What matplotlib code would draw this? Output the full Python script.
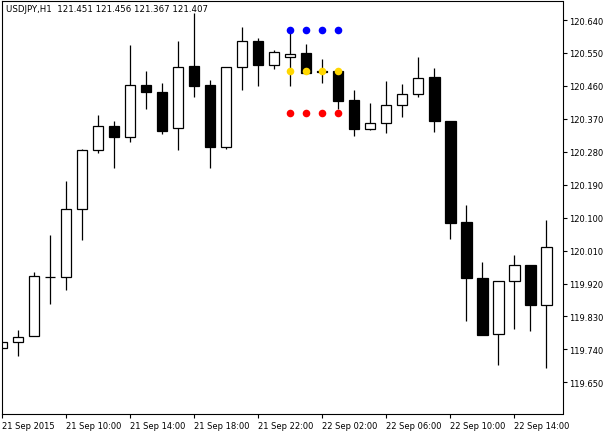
import numpy as np
import matplotlib.pyplot as plt

# USDJPY H1, 21-22 Sep 2015
opens = [119.743, 119.760, 119.776, 119.938, 119.937, 120.123, 120.285, 120.350, 120.320,
         120.462, 120.443, 120.345, 120.515, 120.462, 120.293, 120.512, 120.583, 120.516,
         120.539, 120.551, 120.501, 120.501, 120.422, 120.342, 120.358, 120.408, 120.437,
         120.485, 120.365, 120.088, 119.935, 119.781, 119.926, 119.971, 119.862]
highs = [119.760, 119.793, 119.951, 120.053, 120.201, 120.287, 120.381, 120.363, 120.573,
         120.501, 120.469, 120.583, 120.658, 120.477, 120.512, 120.622, 120.591, 120.559,
         120.607, 120.575, 120.534, 120.501, 120.449, 120.414, 120.474, 120.466, 120.540,
         120.510, 120.365, 120.135, 119.980, 119.927, 119.998, 119.971, 120.094]
lows = [119.743, 119.723, 119.776, 119.865, 119.903, 120.040, 120.276, 120.237, 120.308,
        120.398, 120.329, 120.285, 120.431, 120.237, 120.287, 120.448, 120.461, 120.505,
        120.461, 120.495, 120.467, 120.398, 120.324, 120.340, 120.330, 120.376, 120.431,
        120.335, 120.042, 119.818, 119.778, 119.698, 119.796, 119.791, 119.689]
closes = [119.760, 119.775, 119.940, 119.937, 120.123, 120.285, 120.350, 120.319, 120.462,
          120.442, 120.338, 120.512, 120.461, 120.292, 120.512, 120.583, 120.516, 120.553,
          120.547, 120.495, 120.499, 120.420, 120.341, 120.358, 120.408, 120.438, 120.481,
          120.363, 120.084, 119.936, 119.779, 119.927, 119.970, 119.862, 120.019]

# Niveles del indicador (puntos)
nivel_barras = [18, 19, 20, 21]
nivel_alto = 120.614
nivel_medio = 120.500
nivel_bajo = 120.387

precios_eje = [119.650, 119.740, 119.830, 119.920, 120.010, 120.100, 120.190,
               120.280, 120.370, 120.460, 120.550, 120.640]
etiquetas_tiempo = ['21 Sep 2015', '21 Sep 10:00', '21 Sep 14:00', '21 Sep 18:00',
                    '21 Sep 22:00', '22 Sep 02:00', '22 Sep 06:00', '22 Sep 10:00',
                    '22 Sep 14:00']

fig = plt.figure(figsize=(6.14, 4.35), dpi=100)
ax = fig.add_axes([2 / 614, 20 / 435, 560.5 / 614, 413 / 435])

x = np.arange(len(opens))
o = np.array(opens)
c = np.array(closes)
ax.vlines(x, lows, highs, color='black', linewidth=0.9, zorder=1)
colores = ['white' if cc >= oo else 'black' for oo, cc in zip(o, c)]
alturas = np.maximum(np.abs(c - o), 0.0004)
ax.bar(x, alturas, bottom=np.minimum(o, c), width=0.64, color=colores,
       edgecolor='black', linewidth=0.9, zorder=2)

ax.scatter(nivel_barras, [nivel_alto] * 4, s=30, color='#0000ff', zorder=3, linewidths=0)
ax.scatter(nivel_barras, [nivel_medio] * 4, s=30, color='#ffd700', zorder=3, linewidths=0)
ax.scatter(nivel_barras, [nivel_bajo] * 4, s=30, color='#ff0000', zorder=3, linewidths=0)

ax.set_xlim(0, 35.0)
ax.set_ylim(119.5634, 120.692)

ax.yaxis.tick_right()
ax.set_yticks(precios_eje)
ax.set_yticklabels(['%.3f' % p for p in precios_eje])
ax.set_xticks(np.arange(0, 36, 4)[:len(etiquetas_tiempo)])
ax.set_xticklabels(etiquetas_tiempo, ha='left')
ax.tick_params(axis='both', direction='out', length=3, width=0.8, labelsize=6, pad=1.5)
ax.tick_params(axis='x', pad=2)
for s in ax.spines.values():
    s.set_linewidth(0.8)

ax.text(0.008, 0.993, 'USDJPY,H1  121.451 121.456 121.367 121.407', transform=ax.transAxes,
        fontsize=6.2, va='top', ha='left')

fig.savefig('out.png', dpi=100)
